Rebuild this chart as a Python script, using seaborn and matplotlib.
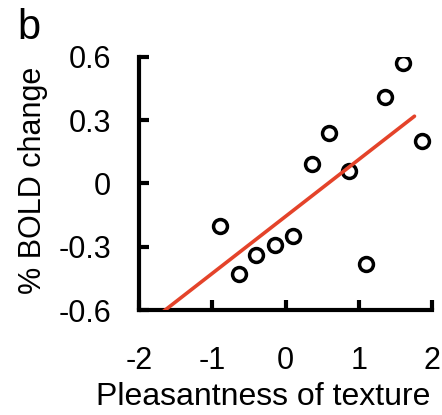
import numpy as np
import matplotlib
matplotlib.use('Agg')
import matplotlib.pyplot as plt
import seaborn as sns

# values
pleasantness = [-0.89, -0.64, -0.40, -0.15, 0.10, 0.36, 0.60, 0.86, 1.10, 1.36, 1.61, 1.86]
bold_change = [-0.20, -0.43, -0.34, -0.29, -0.25, 0.09, 0.24, 0.06, -0.38, 0.41, 0.57, 0.20]
fit_span = [-2.0, 1.76]
x_ticks = [-2, -1, 0, 1, 2]
y_ticks = [-0.6, -0.3, 0, 0.3, 0.6]
y_ticklabels = ['-0.6', '-0.3', '0', '0.3', '0.6']

sns.set_style('ticks')
plt.rcParams['font.family'] = ['Liberation Sans', 'DejaVu Sans']
plt.rcParams['axes.unicode_minus'] = False
plt.rcParams['text.color'] = 'black'
plt.rcParams['axes.labelcolor'] = 'black'

fig = plt.figure(figsize=(4.42, 4.15), dpi=100)
ax = fig.add_axes([0.3145, 0.253, 0.663, 0.610])

sns.scatterplot(x=pleasantness, y=bold_change, ax=ax, s=100,
                facecolor='white', edgecolor='black', linewidth=2.5, zorder=3)

# least-squares line over the data
slope, intercept = np.polyfit(pleasantness, bold_change, 1)
xs = np.array(fit_span)
sns.lineplot(x=xs, y=slope * xs + intercept, ax=ax, color='#e4432a',
             linewidth=2.6, zorder=4)

ax.set_xlim(-2, 2)
ax.set_ylim(-0.6, 0.6)
ax.set_xticks(x_ticks)
ax.set_yticks(y_ticks)
ax.set_yticklabels(y_ticklabels)
ax.tick_params(direction='in', length=7, width=3, labelsize=22, colors='black')
ax.tick_params(axis='y', pad=20)
ax.tick_params(axis='x', pad=26)
for side in ['top', 'right']:
    ax.spines[side].set_visible(False)
for side in ['left', 'bottom']:
    ax.spines[side].set_linewidth(3)
    ax.spines[side].set_color('black')

ax.set_xlabel('Pleasantness of texture', fontsize=23)
ax.set_ylabel('% BOLD change', fontsize=22)
ax.xaxis.set_label_coords(0.423, -0.285)
ax.yaxis.set_label_coords(-0.31, 0.514)

fig.text(0.04, 0.98, 'b', fontsize=30, va='top', ha='left')

fig.savefig('out.png', dpi=100)
